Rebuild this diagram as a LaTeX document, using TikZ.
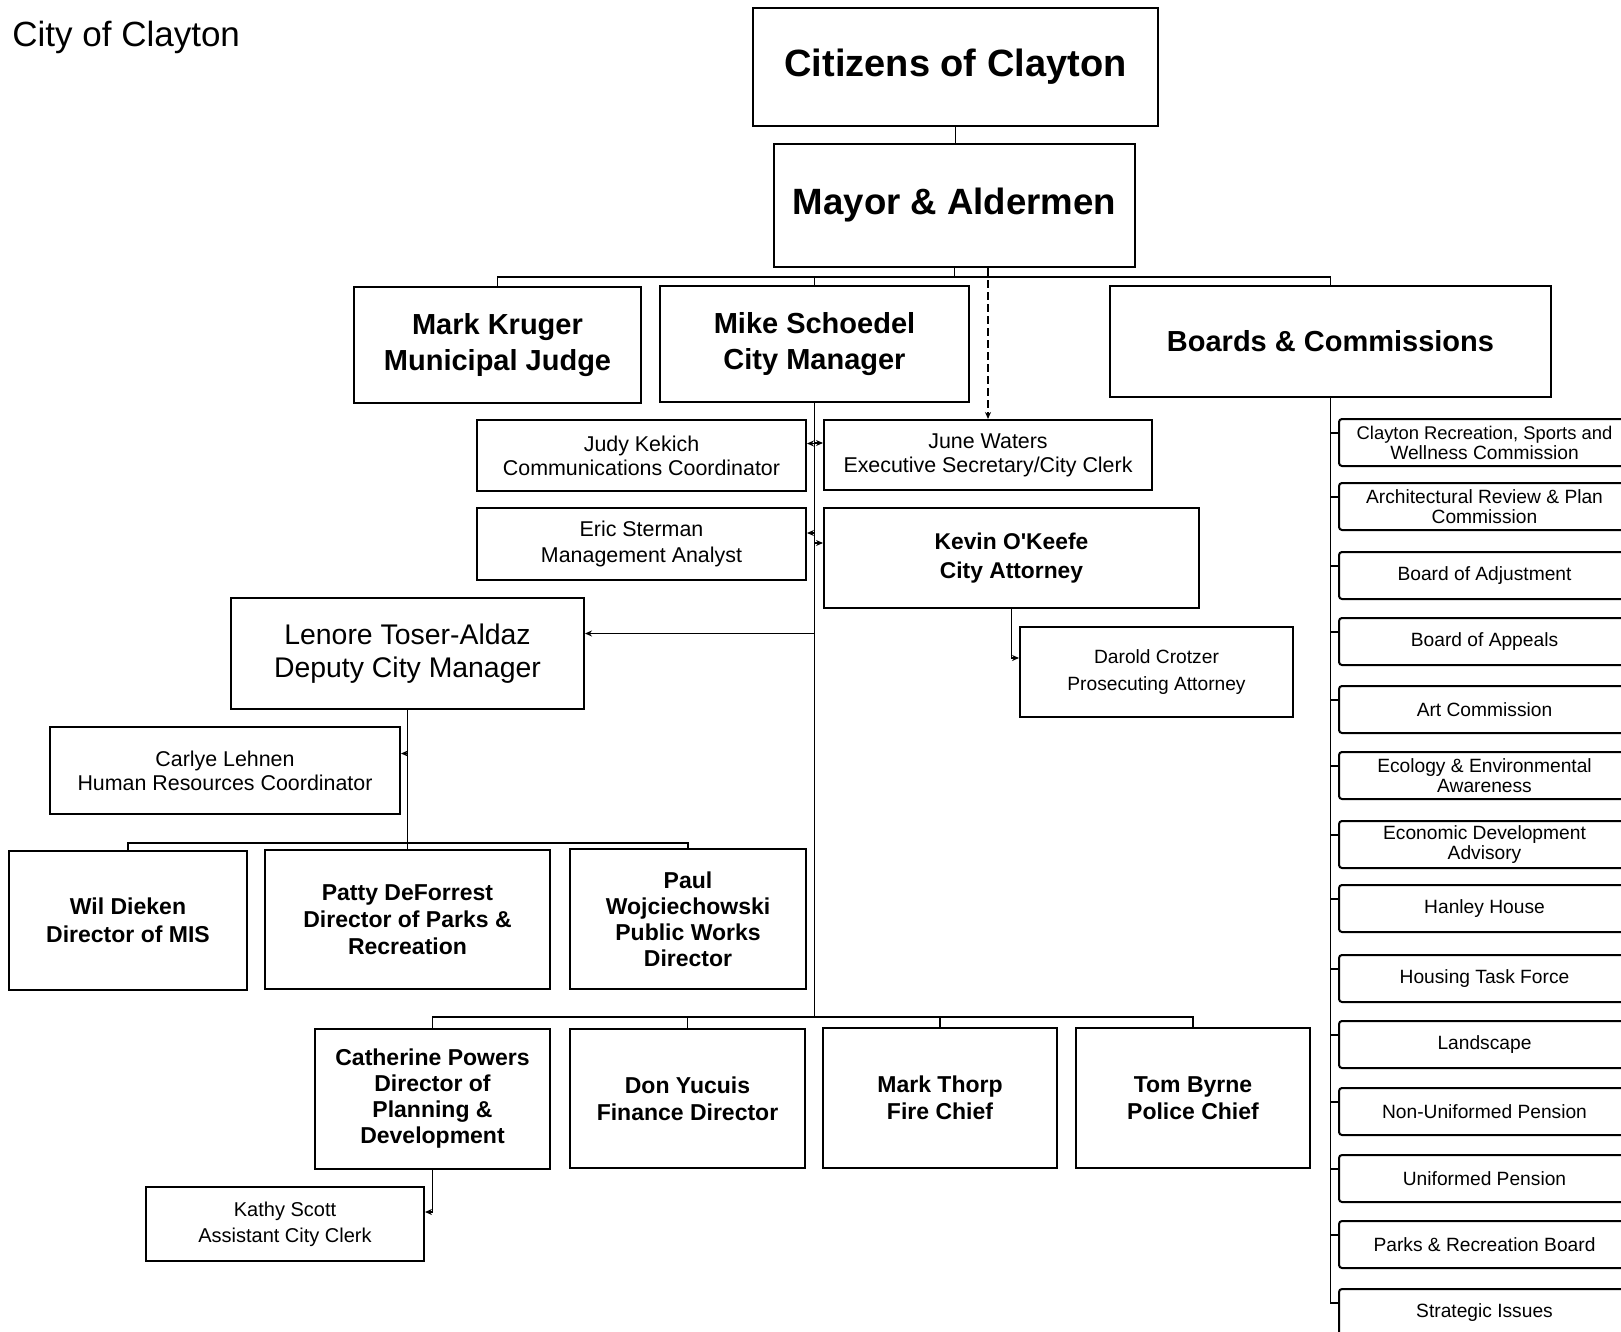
\documentclass[tikz,border=0pt]{standalone}
\usepackage{fontspec}
\setmainfont{Liberation Sans}
\usetikzlibrary{arrows.meta,calc}
\begin{document}
\begin{tikzpicture}[x=0.5pt,y=-0.5pt,
 box/.style={draw=black, line width=1pt, fill=white, inner sep=1pt, align=center},
 sbox/.style={box, rounded corners=1.5pt},
 conn/.style={draw=black, line width=0.7pt},
 tip/.style={conn, -{Stealth[length=3.5pt,width=3pt]}},
 fBig/.style={font=\bfseries\fontsize{19}{22}\selectfont},
 fMay/.style={font=\bfseries\fontsize{18.3}{21}\selectfont},
 fA/.style={font=\bfseries\fontsize{14.5}{18}\selectfont},
 fL/.style={font=\fontsize{14.2}{16.5}\selectfont},
 fS/.style={font=\fontsize{10.7}{12}\selectfont},
 fK/.style={font=\bfseries\fontsize{11.4}{14.5}\selectfont},
 fD/.style={font=\bfseries\fontsize{11.5}{13.5}\selectfont},
 fB/.style={font=\fontsize{9.6}{10}\selectfont},
]
\clip (0,0) rectangle (1621,1332);
\fill[white] (0,0) rectangle (1621,1332);

\node[anchor=west, inner sep=0pt, font=\fontsize{17.5}{20}\selectfont] (title) at (12,37) {City of Clayton};

\node[box, fBig, minimum width=202.5pt, minimum height=59pt] (cit) at (955.5,67) {Citizens of Clayton};
\node[box, fMay, minimum width=180.5pt, minimum height=61.5pt] (mayor) at (954.5,205.5) {Mayor \& Aldermen};
\node[box, fA, minimum width=143.5pt, minimum height=58pt] (kruger) at (497.5,345) {Mark Kruger\\Municipal Judge};
\node[box, fA, minimum width=154.5pt, minimum height=58pt] (cm) at (814.5,344) {Mike Schoedel\\City Manager};
\node[box, fA, minimum width=220.5pt, minimum height=55.5pt] (boards) at (1330.5,341.5) {Boards \& Commissions};

\node[box, fS, minimum width=164.5pt, minimum height=35.5pt] (judy) at (641.5,455.5) {Judy Kekich\\Communications Coordinator};
\node[box, fS, minimum width=164pt, minimum height=35pt] (june) at (988,455) {June Waters\\Executive Secretary/City Clerk};
\node[box, font=\fontsize{10.7}{13}\selectfont, minimum width=164.5pt, minimum height=36pt] (eric) at (641.5,544) {Eric Sterman\\Management Analyst};
\node[box, fK, minimum width=187.5pt, minimum height=50pt] (kevin) at (1011.5,558) {Kevin O\textquotesingle Keefe\\City Attorney};
\node[box, fL, minimum width=176.5pt, minimum height=55.5pt] (lenore) at (407.5,653.5) {Lenore Toser-Aldaz\\Deputy City Manager};
\node[box, font=\fontsize{9.6}{13.5}\selectfont, minimum width=136.5pt, minimum height=45pt] (darold) at (1156.5,672) {Darold Crotzer\\Prosecuting Attorney};
\node[box, fS, minimum width=175pt, minimum height=43.5pt] (carlye) at (225,770.5) {Carlye Lehnen\\Human Resources Coordinator};

\node[box, font=\bfseries\fontsize{11.5}{14}\selectfont, minimum width=119pt, minimum height=69.5pt] (wil) at (128,920.5) {Wil Dieken\\Director of MIS};
\node[box, fD, minimum width=142.5pt, minimum height=69.5pt] (patty) at (407.5,919.5) {Patty DeForrest\\Director of Parks \&\\Recreation};
\node[box, font=\bfseries\fontsize{11.5}{13}\selectfont, minimum width=118pt, minimum height=70pt] (paul) at (688,919) {Paul\\Wojciechowski\\Public Works\\Director};

\node[box, font=\bfseries\fontsize{11.5}{13}\selectfont, minimum width=117.5pt, minimum height=70pt] (cat) at (432.5,1099) {Catherine Powers\\Director of\\Planning \&\\Development};
\node[box, fD, minimum width=117.5pt, minimum height=69.5pt] (don) at (687.5,1098.5) {Don Yucuis\\Finance Director};
\node[box, fD, minimum width=117pt, minimum height=70pt] (thorp) at (940,1098) {Mark Thorp\\Fire Chief};
\node[box, fD, minimum width=117pt, minimum height=70pt] (tom) at (1193,1098) {Tom Byrne\\Police Chief};
\node[box, font=\fontsize{10}{13}\selectfont, minimum width=139pt, minimum height=37pt] (kathy) at (285,1224) {Kathy Scott\\Assistant City Clerk};

% connectors
\coordinate (topbus) at (954.5,277);
\coordinate (cmbus) at (814.5,1017);
\coordinate (lbus) at (407.5,843);

\draw[conn] (cit.south) -- (cit.south |- mayor.north);
\draw[conn] (mayor.south) -- (topbus);
\draw[conn] (kruger.north) |- (topbus);
\draw[conn] (cm.north) |- (topbus);
\draw[conn] (boards.north) |- (topbus);
\draw[tip, line width=1pt, dash pattern=on 4pt off 2pt] (mayor.south -| june.north) -- (june.north);

\draw[conn] (cm.south) -- (cmbus);
\draw[tip] ($(cm.south |- judy.east)+(0,-12)$) -- ($(judy.east)+(0,-12)$);
\draw[tip] ($(cm.south |- june.west)+(0,-12)$) -- ($(june.west)+(0,-12)$);
\draw[tip] ($(cm.south |- eric.east)+(0,-11)$) -- ($(eric.east)+(0,-11)$);
\draw[tip] ($(cm.south |- kevin.west)+(0,-15)$) -- ($(kevin.west)+(0,-15)$);
\draw[tip] ($(cm.south |- lenore.east)+(0,-20)$) -- ($(lenore.east)+(0,-20)$);
\draw[tip] (kevin.south) |- ($(darold.west)+(0,-14)$);

\draw[conn] (lenore.south) -- (lbus);
\draw[tip] ($(lenore.south |- carlye.east)+(0,-17)$) -- ($(carlye.east)+(0,-17)$);
\draw[conn] (wil.north) |- (lbus);
\draw[conn] (patty.north) -- (lbus);
\draw[conn] (paul.north) |- (lbus);

\draw[conn] (cat.north) |- (cmbus);
\draw[conn] (don.north) |- (cmbus);
\draw[conn] (thorp.north) |- (cmbus);
\draw[conn] (tom.north) |- (cmbus);
\draw[tip] (cat.south) |- ($(kathy.east)+(0,-12)$);

% boards and commissions list
\foreach \i/\t/\s in {
 1/419/{\fontsize{9.2}{10}\selectfont Clayton Recreation, Sports and\\Wellness Commission},
 2/483/{Architectural Review \& Plan\\Commission},
 3/552/{Board of Adjustment},
 4/618/{Board of Appeals},
 5/686/{Art Commission},
 6/752/{Ecology \& Environmental\\Awareness},
 7/821/{Economic Development\\Advisory},
 8/885/{Hanley House},
 9/955/{Housing Task Force},
 10/1021/{Landscape},
 11/1088/{Non-Uniformed Pension},
 12/1155/{Uniformed Pension},
 13/1221/{Parks \& Recreation Board},
 14/1289/{Strategic Issues}}{
 \node[sbox, fB, minimum width=145.5pt, minimum height=23.5pt] (b\i) at (1484.5,\t+23.5) {\s};
 \draw[conn] (boards.south) |- ($(b\i.north west)+(0,15)$);
}
\end{tikzpicture}
\end{document}
